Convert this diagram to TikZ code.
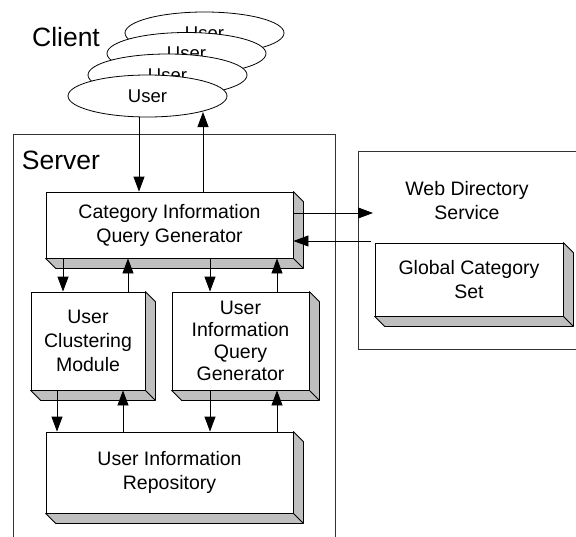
\documentclass[tikz,border=0pt]{standalone}
\usepackage{fontspec}
\setmainfont{Liberation Sans}
\usetikzlibrary{calc,arrows.meta,shapes.geometric}
\tikzset{
  boxtext/.style={font=\fontsize{19.5}{24}\selectfont, align=center},
  flatbox/.style={draw=black, line width=0.8pt, fill=white, boxtext, inner sep=0pt},
  usernode/.style={draw=black, line width=0.8pt, fill=white, ellipse, minimum width=159pt, minimum height=42pt, inner sep=0pt, font=\fontsize{18.5}{22}\selectfont},
  frame/.style={draw=black!80, line width=0.8pt},
  conn/.style={line width=0.8pt, -{Triangle[width=11pt,length=15pt]}},
  shadowfill/.style={fill=black!25, draw=black, line width=0.8pt, line join=round},
  bigtext/.style={font=\fontsize{26.5}{30}\selectfont}
}
\newcommand\boxshadow[1]{%
  \draw[shadowfill] (#1.north east) -- ++(10,10) |- ($(#1.south west)+(10,10)$) -- (#1.south west) -- (#1.south east) -- cycle;
  \draw[line width=0.8pt] (#1.south east) -- ++(10,10);}
\begin{document}
\begin{tikzpicture}[x=1pt,y=-1pt]
\useasboundingbox (0,0) rectangle (576,536);
% frames
\draw[frame] (13,540) -- (13,134) -- (335,134) -- (335,540);
\draw[frame] (580,151) -- (358,151) -- (358,349) -- (580,349);
% labels
\node[bigtext] (client) at (66,37) {Client};
\node[bigtext] (server) at (61,160) {Server};
\node[boxtext] (web) at (467,201) {Web Directory\\Service};
% users
\node[usernode] (u4) at (204.5,33) {User};
\node[usernode] (u3) at (186.5,53.5) {User};
\node[usernode] (u2) at (167.5,75) {User};
\node[usernode] (u1) at (147.5,96) {User};
% boxes
\node[flatbox, minimum width=247pt, minimum height=66pt] (cat) at (169.5,225) {Category Information\\Query Generator};
\boxshadow{cat}
\node[flatbox, minimum width=114pt, minimum height=98pt] (clu) at (88,341) {User\\Clustering\\Module};
\boxshadow{clu}
\node[flatbox, minimum width=137pt, minimum height=98pt, font=\fontsize{19.5}{22}\selectfont] (uiq) at (240.5,341) {User\\Information\\Query\\Generator};
\boxshadow{uiq}
\node[flatbox, minimum width=247pt, minimum height=81pt] (rep) at (169.5,472.5) {User Information\\Repository};
\boxshadow{rep}
\node[flatbox, minimum width=188pt, minimum height=73pt] (gcs) at (469,279.5) {Global Category\\Set};
\boxshadow{gcs}
% connectors user <-> server
\coordinate (ua) at (139,117);
\coordinate (ub) at (203,112);
\draw[conn] (ua) -- (cat.north -| ua);
\draw[conn] (cat.north -| ub) -- (ub);
% cat <-> lower boxes
\path (63,0) coordinate (x1) (128,0) coordinate (x2) (210,0) coordinate (x3) (277,0) coordinate (x4);
\draw[conn] (cat.south -| x1) -- (clu.north -| x1);
\draw[conn] (clu.north -| x2) -- (cat.south -| x2);
\draw[conn] (cat.south -| x3) -- (uiq.north -| x3);
\draw[conn] (uiq.north -| x4) -- (cat.south -| x4);
% lower boxes <-> repository
\path (57,0) coordinate (y1) (123,0) coordinate (y2);
\draw[conn] (clu.south -| y1) -- (rep.north -| y1);
\draw[conn] (rep.north -| y2) -- (clu.south -| y2);
\draw[conn] (uiq.south -| x3) -- (rep.north -| x3);
\draw[conn] (rep.north -| x4) -- (uiq.south -| x4);
% cat <-> web directory
\coordinate (wa) at (373,213);
\coordinate (wb) at (371,241);
\draw[conn] (cat.east |- wa) -- (wa);
\draw[conn] (wb) -- (cat.east |- wb);
\end{tikzpicture}
\end{document}
